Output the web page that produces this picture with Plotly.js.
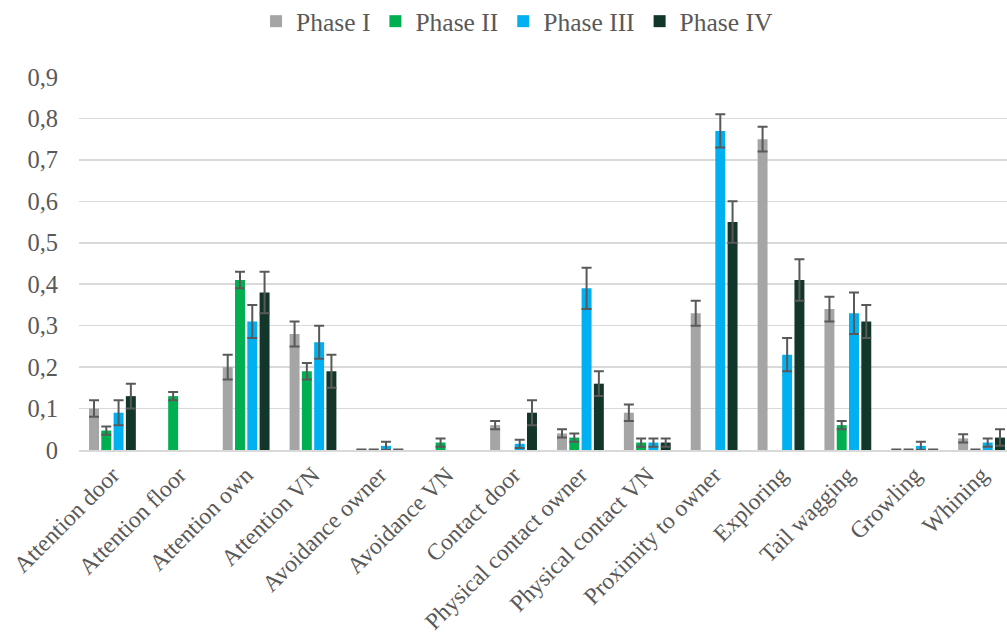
<!DOCTYPE html>
<html>
<head>
<meta charset="utf-8">
<script src="https://cdn.plot.ly/plotly-3.0.1.min.js"></script>
<style>
  html, body { margin: 0; padding: 0; overflow: hidden; background: #fff; }
  #chart { width: 1016px; height: 635px; }
</style>
</head>
<body>
<div id="chart"></div>
<script>
// Behaviour categories on the x axis
const categories = [
  "Attention door", "Attention floor", "Attention own", "Attention VN",
  "Avoidance owner", "Avoidance VN", "Contact door", "Physical contact owner",
  "Physical contact VN", "Proximity to owner", "Exploring", "Tail wagging",
  "Growling", "Whining"
];

const seriesNames = ["Phase I", "Phase II", "Phase III", "Phase IV"];

// Mean proportions per phase (null = behaviour not observed in that phase)
const phase1 = [0.10, null, 0.20, 0.28, 0.001, null, 0.06, 0.04, 0.09, 0.33, 0.75, 0.34, 0.001, 0.028];
const phase2 = [0.047, 0.13, 0.41, 0.19, 0.001, 0.018, null, 0.03, 0.018, null, null, 0.06, 0.001, 0.001];
const phase3 = [0.09, null, 0.31, 0.26, 0.01, null, 0.015, 0.39, 0.018, 0.77, 0.23, 0.33, 0.01, 0.018];
const phase4 = [0.13, null, 0.38, 0.19, 0.001, null, 0.09, 0.16, 0.018, 0.55, 0.41, 0.31, 0.001, 0.03];

// Standard errors (null = no error bar drawn)
const phase1Err = [0.02, null, 0.03, 0.03, null, null, 0.01, 0.01, 0.02, 0.03, 0.03, 0.03, null, 0.01];
const phase2Err = [0.01, 0.01, 0.02, 0.02, null, 0.01, null, 0.01, 0.01, null, null, 0.01, null, null];
const phase3Err = [0.03, null, 0.04, 0.04, 0.01, null, 0.01, 0.05, 0.01, 0.04, 0.04, 0.05, 0.01, 0.01];
const phase4Err = [0.03, null, 0.05, 0.04, null, null, 0.03, 0.03, 0.01, 0.05, 0.05, 0.04, null, 0.02];

const colors = ["#A5A5A5", "#00B050", "#00B0F0", "#12372A"];
const values = [phase1, phase2, phase3, phase4];
const errors = [phase1Err, phase2Err, phase3Err, phase4Err];

const serif = "'Liberation Serif', 'DejaVu Serif', 'Noto Serif', serif";
const textColor = "#595959";

const traces = seriesNames.map((name, i) => ({
  type: "bar",
  name: name,
  x: categories,
  y: values[i],
  marker: { color: colors[i], line: { width: 0 } },
  error_y: {
    type: "data",
    array: errors[i],
    visible: true,
    color: "#595959",
    thickness: 2,
    width: 5
  }
}));

const layout = {
  width: 1016,
  height: 635,
  margin: { l: 79, r: 1, t: 77, b: 185 },
  paper_bgcolor: "#ffffff",
  plot_bgcolor: "#ffffff",
  separators: ", ",
  barmode: "group",
  bargap: 0.265,
  bargroupgap: 0.19,
  font: { family: serif, size: 24.5, color: textColor },
  showlegend: true,
  legend: {
    orientation: "h",
    x: 0.468,
    xanchor: "center",
    yref: "container",
    y: 0.966,
    yanchor: "middle",
    font: { family: serif, size: 25.5, color: textColor },
    traceorder: "normal",
    itemwidth: 30
  },
  xaxis: {
    type: "category",
    tickangle: -45,
    tickfont: { family: serif, size: 23.5, color: textColor },
    showgrid: false,
    showline: true,
    linecolor: "#D9D9D9",
    linewidth: 2,
    ticks: "",
    fixedrange: true
  },
  yaxis: {
    range: [0, 0.9],
    dtick: 0.1,
    tick0: 0,
    tickfont: { family: serif, size: 24.5, color: textColor },
    showgrid: true,
    gridcolor: "#D9D9D9",
    gridwidth: 1.5,
    zeroline: false,
    showline: false,
    ticks: "",
    ticklabelstandoff: 20,
    fixedrange: true
  }
};

Plotly.newPlot("chart", traces, layout, { displayModeBar: false, staticPlot: true });
</script>
</body>
</html>
